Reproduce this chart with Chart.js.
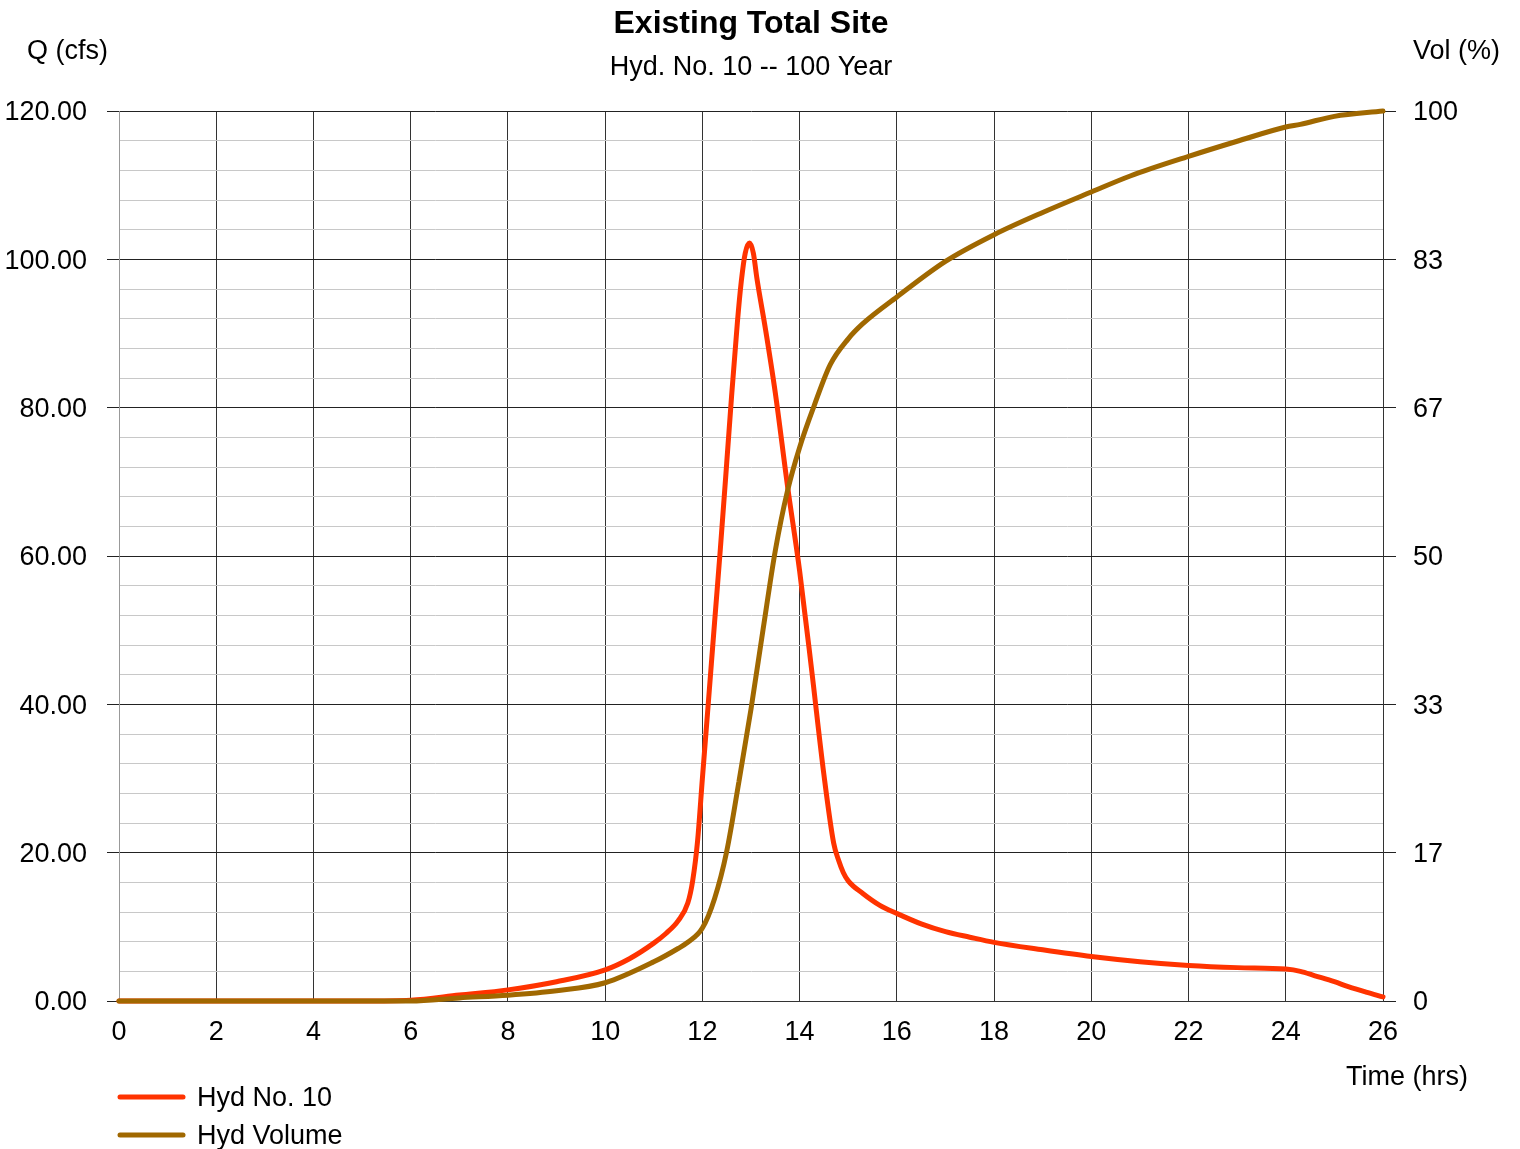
<!DOCTYPE html>
<html><head><meta charset="utf-8">
<script src="https://cdn.jsdelivr.net/npm/chart.js@4.4.1/dist/chart.umd.min.js"></script>
<style>html,body{margin:0;padding:0;background:#fff}#wrap{width:1520px;height:1149px;position:relative}canvas{display:block}</style>
</head><body><div id="wrap"><canvas id="c" width="1520" height="1149"></canvas></div>
<script>
const chartTitle = 'Existing Total Site';
const chartSubtitle = 'Hyd. No. 10 -- 100 Year';
const leftAxisTitle = 'Q (cfs)';
const rightAxisTitle = 'Vol (%)';
const xAxisTitle = 'Time (hrs)';
const seriesNames = ['Hyd No. 10', 'Hyd Volume'];

const flowTimes  = [0, 1, 2, 3, 4, 5, 6, 7, 8, 9, 10, 10.5, 11, 11.25, 11.5, 11.7, 11.8, 11.9, 12, 12.12, 12.25, 12.37, 12.5, 12.6, 12.72, 12.8, 12.88, 12.97, 13.05, 13.12, 13.3, 13.5, 13.75, 14, 14.25, 14.5, 14.7, 14.8, 14.9, 15, 15.3, 15.65, 16, 16.5, 17, 17.5, 18, 19, 20, 21, 22, 23, 24, 24.3, 24.6, 25, 25.3, 25.65, 26];
const flowValues = [0, 0, 0, 0, 0, 0, 0.1, 0.8, 1.5, 2.6, 4.2, 5.7, 7.8, 9.1, 10.8, 13.2, 16.2, 21.5, 30, 40, 51, 61, 72.5, 81.5, 91.5, 97, 100.8, 102.2, 100.8, 97.5, 90.5, 82, 69.5, 58, 44.5, 30.5, 21.3, 19, 17.3, 16.2, 14.5, 12.9, 11.8, 10.4, 9.35, 8.6, 7.9, 6.9, 6.0, 5.3, 4.8, 4.5, 4.3, 4.0, 3.4, 2.6, 1.9, 1.2, 0.55];

const volTimes  = [0, 1, 2, 3, 4, 5, 6, 7, 8, 9, 10, 11, 11.5, 11.7, 12, 12.25, 12.5, 12.75, 13.0, 13.25, 13.5, 13.75, 14, 14.3, 14.63, 15, 15.3, 16, 17, 18, 19, 20, 20.8, 22, 23, 24, 24.3, 25, 26];
const volValues = [0, 0, 0, 0, 0, 0, 0, 0.35, 0.65, 1.15, 2.05, 4.4, 5.9, 6.6, 8.2, 11.5, 16.8, 24.6, 32.8, 41.8, 50.6, 57.3, 62.2, 66.9, 71.5, 74.4, 76.1, 79.1, 83.1, 86.1, 88.6, 90.9, 92.7, 94.9, 96.6, 98.2, 98.5, 99.4, 100];

const xTickValues = [0, 2, 4, 6, 8, 10, 12, 14, 16, 18, 20, 22, 24, 26];
const leftTickLabels = ['0.00', '20.00', '40.00', '60.00', '80.00', '100.00', '120.00'];
const rightTickLabels = ['0', '17', '33', '50', '67', '83', '100'];

const FONT = '"Liberation Sans", Arial, sans-serif';
const RED = '#FF3300';
const BROWN = '#A06800';

const textPlugin = {
  id: 'texts',
  beforeDraw(chart) {
    const c = chart.ctx;
    c.save();
    c.fillStyle = '#fff';
    c.fillRect(0, 0, chart.width, chart.height);
    c.restore();
  },
  afterDraw(chart) {
    const c = chart.ctx;
    const ca = chart.chartArea;
    c.save();
    c.fillStyle = '#000';
    c.textBaseline = 'middle';
    c.textAlign = 'center';
    const cx = (ca.left + ca.right) / 2;
    c.font = 'bold 32px ' + FONT;
    c.fillText(chartTitle, cx, 24);
    c.font = '27px ' + FONT;
    c.fillText(chartSubtitle, cx, 68);
    c.textAlign = 'left';
    c.fillText(leftAxisTitle, 27, 52);
    c.fillText(rightAxisTitle, 1413, 52);
    c.textAlign = 'right';
    c.fillText(xAxisTitle, 1468, 1078);
    // legend
    const ys = [1097, 1135];
    chart.data.datasets.forEach((ds, i) => {
      c.strokeStyle = ds.borderColor;
      c.lineWidth = 5;
      c.lineCap = 'round';
      c.beginPath();
      c.moveTo(120, ys[i]);
      c.lineTo(183, ys[i]);
      c.stroke();
      c.textAlign = 'left';
      c.fillStyle = '#000';
      c.fillText(ds.label, 197, ys[i] + 2);
    });
    c.restore();
  }
};

new Chart(document.getElementById('c'), {
  type: 'line',
  data: {
    datasets: [
      {
        label: seriesNames[0],
        data: flowTimes.map((t, i) => ({ x: t, y: flowValues[i] })),
        borderColor: RED,
        backgroundColor: RED,
        borderWidth: 5,
        pointRadius: 0,
        cubicInterpolationMode: 'monotone',
        borderJoinStyle: 'round',
        borderCapStyle: 'round',
        yAxisID: 'y',
        clip: false,
        order: 2
      },
      {
        label: seriesNames[1],
        data: volTimes.map((t, i) => ({ x: t, y: volValues[i] })),
        borderColor: BROWN,
        backgroundColor: BROWN,
        borderWidth: 5,
        pointRadius: 0,
        cubicInterpolationMode: 'monotone',
        borderJoinStyle: 'round',
        borderCapStyle: 'round',
        yAxisID: 'y2',
        clip: false,
        order: 1
      }
    ]
  },
  options: {
    responsive: false,
    animation: false,
    devicePixelRatio: 1,
    layout: { padding: { top: 111, left: 0, right: 0, bottom: 0 } },
    plugins: { legend: { display: false }, tooltip: { enabled: false }, title: { display: false } },
    scales: {
      x: {
        type: 'linear',
        min: 0, max: 26,
        afterFit(s) { s.height = 148; },
        afterBuildTicks(s) { s.ticks = xTickValues.map(v => ({ value: v })); },
        ticks: { stepSize: 2, autoSkip: false, maxRotation: 0, color: '#000', padding: 15, font: { family: FONT, size: 27 } },
        grid: { color: '#333', lineWidth: 1, drawTicks: false },
        border: { color: '#333' }
      },
      y: {
        type: 'linear',
        position: 'left',
        min: 0, max: 120,
        afterFit(s) { s.width = 119; },
        ticks: {
          stepSize: 4, autoSkip: false, color: '#000', padding: 20, labelOffset: 2,
          font: { family: FONT, size: 27 },
          callback: (v) => (v % 20 === 0 ? leftTickLabels[v / 20] : '')
        },
        grid: {
          color: (ctx) => (ctx.tick && ctx.tick.value % 20 === 0 ? '#222' : '#c8c8c8'),
          tickColor: (ctx) => (ctx.tick && ctx.tick.value % 20 === 0 ? '#222' : 'rgba(0,0,0,0)'),
          tickLength: 12,
          lineWidth: 1
        },
        border: { color: '#999' }
      },
      y2: {
        type: 'linear',
        position: 'right',
        min: 0, max: 100,
        afterFit(s) { s.width = 137; },
        afterBuildTicks(s) { s.ticks = rightTickLabels.map((l, i) => ({ value: i * 100 / 6 })); },
        ticks: {
          autoSkip: false, color: '#000', padding: 17, labelOffset: 2,
          font: { family: FONT, size: 27 },
          callback: (v, i) => rightTickLabels[i]
        },
        grid: { drawOnChartArea: false, color: '#222', tickLength: 13, lineWidth: 1 },
        border: { color: '#333' }
      }
    }
  },
  plugins: [textPlugin]
});
</script>
</body></html>
